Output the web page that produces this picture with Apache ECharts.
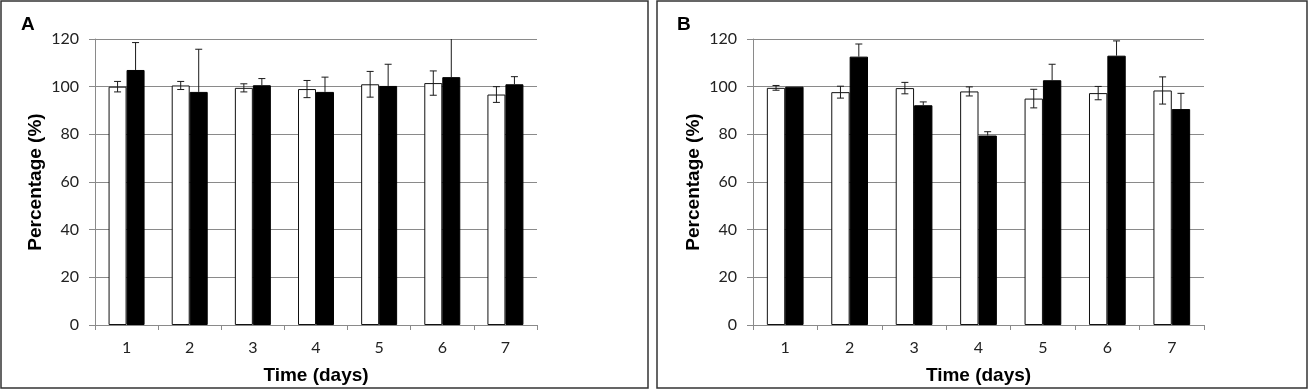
<!DOCTYPE html>
<html><head><meta charset="utf-8">
<script src="https://cdn.jsdelivr.net/npm/echarts@6/dist/echarts.min.js"></script>
<style>html,body{margin:0;padding:0;background:#fff}#c{width:1310px;height:390px}</style>
</head><body><div id="c"></div>
<script>
const categories = ['1','2','3','4','5','6','7'];
const yTicks = [0,20,40,60,80,100,120];
// Panel A
const aWhite = [100, 100.5, 99.5, 99, 101, 101.5, 96.7];
const aWhiteErr = [2.2, 1.7, 1.7, 3.6, 5.4, 5.1, 3.3];
const aBlack = [107, 97.8, 100.6, 97.8, 100.3, 104, 101];
const aBlackErr = [11.5, 17.9, 2.8, 6.2, 9.1, 18, 3.2];
// Panel B
const bWhite = [99.5, 97.7, 99.4, 98, 95, 97.3, 98.4];
const bWhiteErr = [1, 2.5, 2.4, 1.9, 3.9, 2.8, 5.7];
const bBlack = [100, 112.6, 92.2, 79.5, 102.7, 113, 90.6];
const bBlackErr = [0, 5.3, 1.4, 1.6, 6.7, 6.2, 6.6];

const GAP = 0.43;
function errSeries(gridIdx, vals, errs, side, upOnly) {
  return {
    type: 'custom', xAxisIndex: gridIdx, yAxisIndex: gridIdx, clip: true, z: 5,
    data: vals.map((v, i) => [i, v, errs[i]]),
    renderItem: function (params, api) {
      const i = api.value(0), v = api.value(1), e = api.value(2);
      if (!e) return null;
      const band = api.size([1, 0])[0];
      const bw = band * (1 - GAP) / 2;
      const c = api.coord([i, v]);
      const x = c[0] + side * bw / 2;
      const top = api.coord([i, v + e])[1];
      const bot = upOnly ? c[1] : api.coord([i, v - e])[1];
      const cap = 3.5;
      const st = { stroke: '#1a1a1a', lineWidth: 1 };
      const ch = [
        { type: 'line', shape: { x1: x, y1: top, x2: x, y2: bot }, style: st },
        { type: 'line', shape: { x1: x - cap, y1: top, x2: x + cap, y2: top }, style: st }
      ];
      if (!upOnly) ch.push({ type: 'line', shape: { x1: x - cap, y1: bot, x2: x + cap, y2: bot }, style: st });
      return { type: 'group', children: ch };
    }
  };
}
const axisGray = '#8a8a8a';
function xAx(gi) {
  return {
    type: 'category', gridIndex: gi, data: categories,
    name: 'Time (days)', nameLocation: 'middle', nameGap: 41,
    nameTextStyle: { fontFamily: 'Liberation Sans', fontWeight: 'bold', fontSize: 19, color: '#000' },
    axisLine: { lineStyle: { color: axisGray, width: 1 } },
    axisTick: { show: true, length: 5, lineStyle: { color: axisGray } },
    axisLabel: { margin: 15, fontFamily: 'Lato', fontSize: 16, color: '#222' },
    splitLine: { show: false }
  };
}
function yAx(gi) {
  return {
    type: 'value', gridIndex: gi, min: 0, max: 120, interval: 20,
    name: 'Percentage (%)', nameLocation: 'middle', nameGap: 50,
    nameTextStyle: { fontFamily: 'Liberation Sans', fontWeight: 'bold', fontSize: 19, color: '#000' },
    axisLine: { show: true, lineStyle: { color: axisGray, width: 1 } },
    axisTick: { show: true, length: 6, lineStyle: { color: axisGray } },
    axisLabel: { margin: 16, fontFamily: 'Lato', fontSize: 16, color: '#222',
      formatter: v => yTicks.indexOf(v) >= 0 ? String(v) : '' },
    splitLine: { show: true, lineStyle: { color: axisGray, width: 1 } }
  };
}
function bars(gi, white, black) {
  return [
    { type: 'bar', xAxisIndex: gi, yAxisIndex: gi, data: white, barGap: 0, barCategoryGap: (GAP*100)+'%',
      itemStyle: { color: '#fff', borderColor: '#111', borderWidth: 1 } },
    { type: 'bar', xAxisIndex: gi, yAxisIndex: gi, data: black, barGap: 0, barCategoryGap: (GAP*100)+'%',
      itemStyle: { color: '#000', borderColor: '#000', borderWidth: 1 } }
  ];
}
const chart = echarts.init(document.getElementById('c'), null, { renderer: 'canvas' });
chart.setOption({
  animation: false,
  backgroundColor: '#fff',
  grid: [
    { left: 95, right: 773, top: 39, bottom: 64 },
    { left: 753, right: 106, top: 39, bottom: 60 }
  ],
  xAxis: [xAx(0), xAx(1)],
  yAxis: [yAx(0), yAx(1)],
  graphic: [
    { type: 'rect', shape: { x: 1, y: 1, width: 647, height: 387 }, style: { fill: 'none', stroke: '#333', lineWidth: 1.5 }, silent: true },
    { type: 'rect', shape: { x: 657, y: 1, width: 650, height: 387 }, style: { fill: 'none', stroke: '#333', lineWidth: 1.5 }, silent: true },
    { type: 'text', left: 21, top: 15, style: { text: 'A', font: 'bold 19px "Liberation Sans"', fill: '#000' } },
    { type: 'text', left: 677, top: 15, style: { text: 'B', font: 'bold 19px "Liberation Sans"', fill: '#000' } }
  ],
  series: [
    ...bars(0, aWhite, aBlack),
    errSeries(0, aWhite, aWhiteErr, -1, false),
    errSeries(0, aBlack, aBlackErr, 1, true),
    ...bars(1, bWhite, bBlack),
    errSeries(1, bWhite, bWhiteErr, -1, false),
    errSeries(1, bBlack, bBlackErr, 1, true)
  ]
});
</script></body></html>
